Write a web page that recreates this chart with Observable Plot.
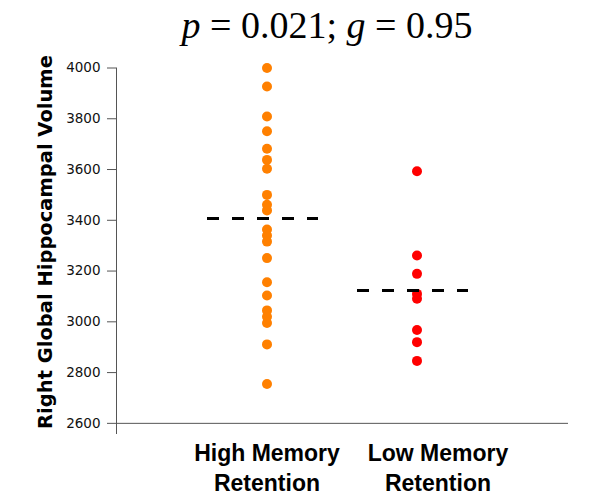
<!DOCTYPE html>
<html>
<head>
<meta charset="utf-8">
<script src="https://cdn.jsdelivr.net/npm/d3@7"></script>
<script src="https://cdn.jsdelivr.net/npm/@observablehq/plot@0.6"></script>
<style>
  html, body { margin: 0; padding: 0; background: #fff; }
  #wrap { width: 590px; }
  #title {
    box-sizing: border-box; width: 590px; height: 50px; line-height: 50px;
    padding-left: 64px; text-align: center; white-space: pre;
    font-family: "Liberation Serif", "Times New Roman", serif; font-size: 38px; color: #000;
  }
  #chart svg { display: block; }
</style>
</head>
<body>
<div id="wrap">
  <div id="title"><i>p</i> = 0.021; <i>g</i> = 0.95</div>
  <div id="chart"></div>
</div>
<script>
const groups = ["High Memory Retention", "Low Memory Retention"];
const groupLabels = ["High Memory\nRetention", "Low Memory\nRetention"];
const highValues = [4000, 3927, 3809, 3751, 3682, 3638, 3603, 3500, 3461, 3439,
                    3364, 3340, 3316, 3251, 3156, 3104, 3045, 3020, 2995, 2911, 2755];
const lowValues = [3593, 3261, 3189, 3110, 3091, 2968, 2920, 2846];
const meanValues = [3407, 3123];
const groupColors = ["#FF8000", "#FF0000"];
const yTicks = [2600, 2800, 3000, 3200, 3400, 3600, 3800, 4000];
const yLabel = "Right Global Hippocampal Volume";

const points = [
  ...highValues.map(v => ({group: groups[0], value: v})),
  ...lowValues.map(v => ({group: groups[1], value: v}))
];
const means = groups.map((g, i) => ({group: g, mean: meanValues[i]}));
const labels = groups.map((g, i) => ({group: g, label: groupLabels[i]}));

const chart = Plot.plot({
  width: 590,
  height: 449,
  marginTop: 17.5,
  marginBottom: 66,
  marginLeft: 116,
  marginRight: 22,
  style: {background: "#fff", color: "#222"},
  x: {type: "band", domain: groups, range: [210, 473], paddingInner: 0.258, paddingOuter: 0, axis: null},
  y: {domain: [2560, 4000], axis: null},
  color: {domain: groups, range: groupColors},
  marks: [
    Plot.axisY({ticks: yTicks, tickFormat: d3.format("d"), tickSize: 9, tickPadding: 7, label: null, stroke: "#555",
      fontSize: 13.5, fontFamily: "DejaVu Sans", fill: "#111"}),
    Plot.frame({anchor: "left", stroke: "#555"}),
    Plot.ruleY([2600], {stroke: "#555"}),
    Plot.dot(points, {x: "group", y: "value", fill: d => d.group, r: 5, stroke: null}),
    Plot.tickY(means, {x: "group", y: "mean", dx: -4, stroke: "#000", strokeWidth: 3, strokeDasharray: "12,13"}),
    Plot.text(labels.filter(d => d.group === groups[0]), {x: "group", text: "label", frameAnchor: "bottom",
      lineAnchor: "top", dy: 6, lineHeight: 1.3, fontSize: 23, fontWeight: "bold",
      fontFamily: "Liberation Sans, Arial, sans-serif", fill: "#000"}),
    Plot.text(labels.filter(d => d.group === groups[1]), {x: "group", text: "label", frameAnchor: "bottom",
      lineAnchor: "top", dx: 21, dy: 6, lineHeight: 1.3, fontSize: 23, fontWeight: "bold",
      fontFamily: "Liberation Sans, Arial, sans-serif", fill: "#000"}),
    Plot.text([yLabel], {frameAnchor: "left", textAnchor: "middle", lineAnchor: "middle", rotate: -90,
      dx: -70.5, dy: -8.75, fontSize: 19.5, fontWeight: "bold", fontFamily: "DejaVu Sans", fill: "#000"})
  ]
});
document.getElementById("chart").appendChild(chart);
</script>
</body>
</html>
